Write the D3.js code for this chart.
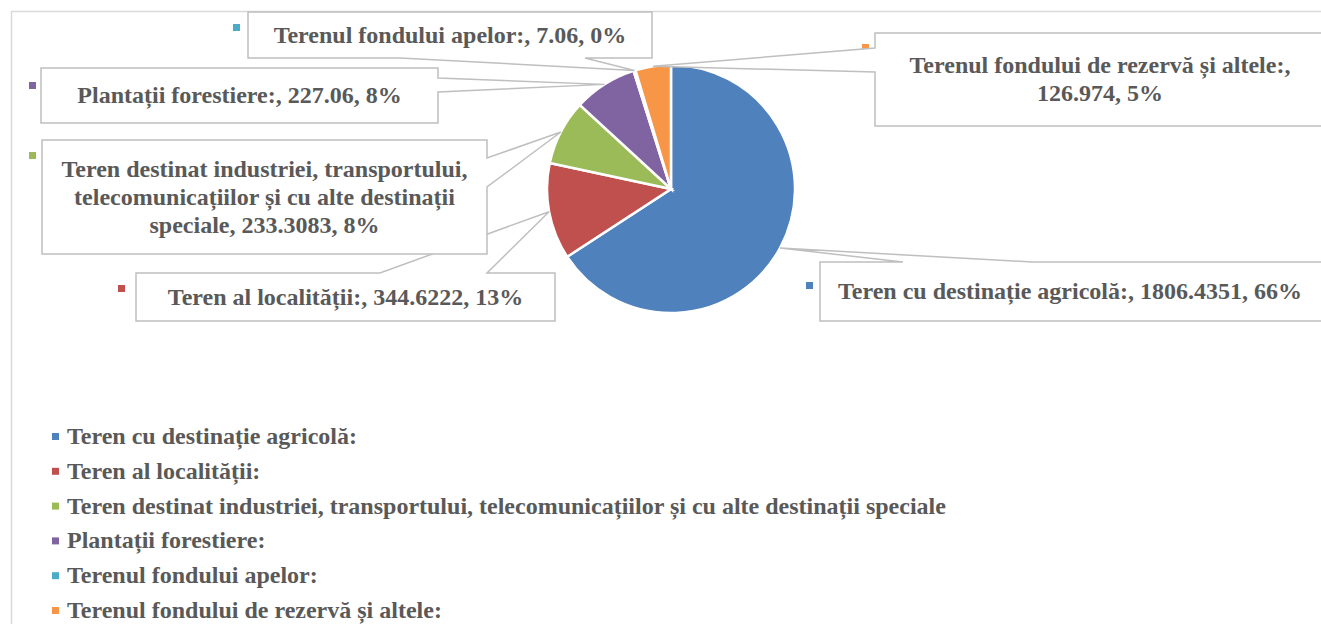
<!DOCTYPE html>
<html>
<head>
<meta charset="utf-8">
<script src="https://cdn.jsdelivr.net/npm/d3@7"></script>
<style>
  body { margin: 0; background: #fff; }
  text { font-family: "Liberation Serif", "Times New Roman", serif; font-weight: bold; fill: #595959; }
</style>
</head>
<body>
<div id="chart"></div>
<script>
// categories and values
var categories = [
  "Teren cu destinație agricolă:",
  "Teren al localității:",
  "Teren destinat industriei, transportului, telecomunicațiilor și cu alte destinații speciale",
  "Plantații forestiere:",
  "Terenul fondului apelor:",
  "Terenul fondului de rezervă și altele:"
];
var values = [1806.4351, 344.6222, 233.3083, 227.06, 7.06, 126.974];
var valueLabels = ["1806.4351", "344.6222", "233.3083", "227.06", "7.06", "126.974"];
var colors = ["#4f81bd", "#c0504d", "#9bbb59", "#8064a2", "#4bacc6", "#f79646"];

var W = 1321, H = 624;
var cx = 671, cy = 189, r = 124;

var svg = d3.select("#chart")
  .append("svg")
    .attr("width", W)
    .attr("height", H);

// chart area border (partly out of frame)
svg.append("path")
  .attr("d", "M11.5," + H + " V11.5 H" + W)
  .attr("fill", "none")
  .attr("stroke", "#d9d9d9")
  .attr("stroke-width", 1.5);

var pie = d3.pie().sort(null).value(function(d) { return d; });
var arcs = pie(values);
var arc = d3.arc().innerRadius(0).outerRadius(r);
var edge = d3.arc().innerRadius(r).outerRadius(r);

var g = svg.append("g").attr("transform", "translate(" + cx + "," + cy + ")");
g.selectAll("path.slice")
  .data(arcs)
  .enter()
  .append("path")
    .attr("class", "slice")
    .attr("d", arc)
    .attr("fill", function(d, i) { return colors[i]; })
    .attr("stroke", "#fff")
    .attr("stroke-width", 2.5);

var total = d3.sum(values);

// callout boxes: [x0, y0, x1, y1], side where the pointer leaves, pointer base
var boxes = [
  {b: [820, 262, 1330, 321], side: "top",    base: [903, 1032], key: [806, 282]},
  {b: [136, 273, 555, 321],  side: "top",    base: [380, 487],  key: [118, 285]},
  {b: [42, 140, 487, 254],   side: "right",  base: [158, 187],  key: [29, 152]},
  {b: [41, 68, 438, 123],    side: "right",  base: [78, 92],    key: [29, 82]},
  {b: [248, 12, 652, 58],    side: "bottom", base: [400, 585],  key: [233, 24]},
  {b: [875, 33, 1330, 126],  side: "left",   base: [48, 72],    key: [862, 44]}
];

function calloutPath(o, tip) {
  var x0 = o.b[0], y0 = o.b[1], x1 = o.b[2], y1 = o.b[3];
  var p = d3.path(), a = o.base[0], b = o.base[1];
  p.moveTo(x0, y0);
  if (o.side == "top") { p.lineTo(a, y0); p.lineTo(tip[0], tip[1]); p.lineTo(b, y0); }
  p.lineTo(x1, y0);
  if (o.side == "right") { p.lineTo(x1, a); p.lineTo(tip[0], tip[1]); p.lineTo(x1, b); }
  p.lineTo(x1, y1);
  if (o.side == "bottom") { p.lineTo(b, y1); p.lineTo(tip[0], tip[1]); p.lineTo(a, y1); }
  p.lineTo(x0, y1);
  if (o.side == "left") { p.lineTo(x0, b); p.lineTo(tip[0], tip[1]); p.lineTo(x0, a); }
  p.closePath();
  return p.toString();
}

// small keys next to the labels
svg.selectAll("rect.key")
  .data(boxes)
  .enter()
  .append("rect")
    .attr("x", function(d) { return d.key[0]; })
    .attr("y", function(d) { return d.key[1]; })
    .attr("width", 7)
    .attr("height", 7)
    .attr("fill", function(d, i) { return colors[i]; });

var fs = 24;
arcs.forEach(function(d, i) {
  var o = boxes[i];
  var c = edge.centroid(d);
  var tip = [cx + c[0], cy + c[1]];
  svg.append("path")
    .attr("d", calloutPath(o, tip))
    .attr("fill", "#fff")
    .attr("stroke", "#bfbfbf")
    .attr("stroke-width", 1.5);

  var label = categories[i] + ", " + valueLabels[i] + ", " + Math.round(values[i] / total * 100) + "%";
  var maxW = (o.b[2] - o.b[0]) - 24;
  if (i == 0) maxW = 1000;
  var t = svg.append("text").attr("text-anchor", "middle").style("font-size", fs + "px");
  var words = label.split(" "), lines = [], line = "";
  words.forEach(function(w) {
    var test = line ? line + " " + w : w;
    t.text(test);
    if (t.node().getComputedTextLength() > maxW && line) { lines.push(line); line = w; }
    else line = test;
  });
  lines.push(line);
  t.text("");
  var midx = i == 0 ? 1070 : (o.b[0] + o.b[2]) / 2;
  if (i == 5) midx = 1100;
  var midy = (o.b[1] + o.b[3]) / 2;
  var lh = 28;
  lines.forEach(function(l, k) {
    t.append("tspan")
      .attr("x", midx)
      .attr("y", midy + (k - (lines.length - 1) / 2) * lh + fs * 0.33)
      .text(l);
  });
});

// legend
var legY = d3.scalePoint().domain(d3.range(categories.length)).range([437, 611]);
var leg = svg.selectAll("g.leg")
  .data(categories)
  .enter()
  .append("g")
    .attr("class", "leg")
    .attr("transform", function(d, i) { return "translate(52," + legY(i) + ")"; });
leg.append("rect")
  .attr("x", 0).attr("y", -4)
  .attr("width", 7).attr("height", 7)
  .attr("fill", function(d, i) { return colors[i]; });
leg.append("text")
  .attr("x", 15)
  .attr("y", 7)
  .style("font-size", fs + "px")
  .text(function(d) { return d; });
</script>
</body>
</html>
